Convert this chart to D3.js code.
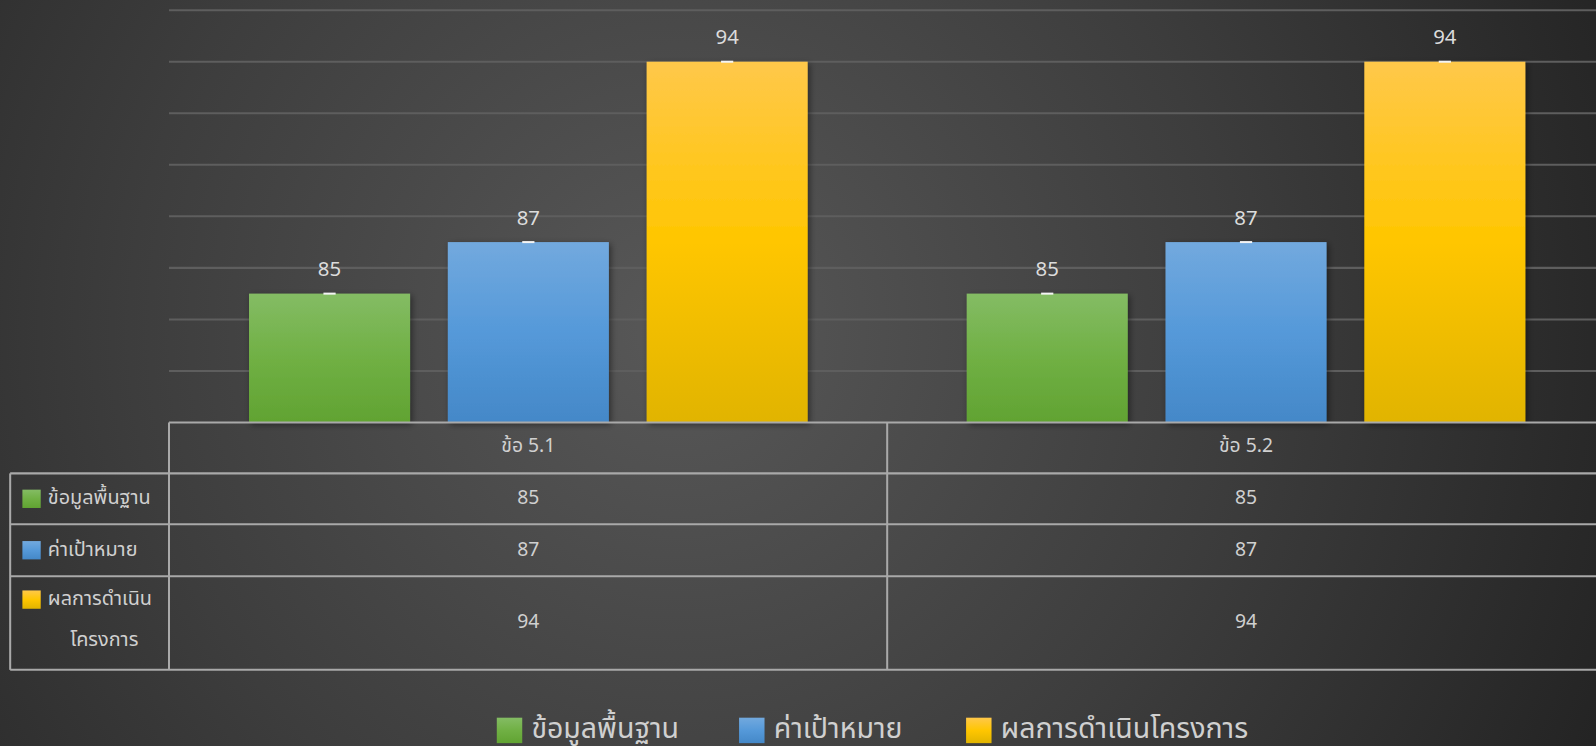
<!DOCTYPE html>
<html><head><meta charset="utf-8">
<script src="https://cdn.jsdelivr.net/npm/d3@7"></script>
<style>
html,body{margin:0;padding:0;background:#333;overflow:hidden}
svg{display:block}
text{font-family:"Noto Sans Thai","Noto Sans Thai UI","Noto Sans",sans-serif}
</style></head><body>
<svg id="c" width="1596" height="746"></svg>
<script>
const categories = ["ข้อ 5.1", "ข้อ 5.2"];
const seriesNames = ["ข้อมูลพื้นฐาน", "ค่าเป้าหมาย", "ผลการดำเนินโครงการ"];
const tableRowLabels = [["ข้อมูลพื้นฐาน"], ["ค่าเป้าหมาย"], ["ผลการดำเนิน", "โครงการ"]];
const baseline = [85, 85];
const target = [87, 87];
const result = [94, 94];
const yTicks = [80, 82, 84, 86, 88, 90, 92, 94, 96];

const seriesValues = [baseline, target, result];
const W = 1596, H = 746, k = 1.018;
const IW = W / k + 2;
const svg = d3.select("#c");
const defs = svg.append("defs");

// background radial gradient
const bg = defs.append("radialGradient").attr("id", "bg")
  .attr("cx", 680).attr("cy", 330).attr("r", 1000).attr("gradientUnits", "userSpaceOnUse");
bg.append("stop").attr("offset", "0").attr("stop-color", "#585858");
bg.append("stop").attr("offset", "0.55").attr("stop-color", "#3d3d3d");
bg.append("stop").attr("offset", "1").attr("stop-color", "#242424");
svg.append("rect").attr("width", W).attr("height", H).attr("fill", "url(#bg)");

const grads = [
  ["#84bc64", "#70b044", "#61a332"],
  ["#72a9de", "#5599d9", "#4488c8"],
  ["#ffc84a", "#ffc600", "#e1b400"]
];
grads.forEach((g, i) => {
  const lg = defs.append("linearGradient").attr("id", "g" + i)
    .attr("x1", 0).attr("y1", 0).attr("x2", 0).attr("y2", 1);
  lg.append("stop").attr("offset", "0").attr("stop-color", g[0]);
  lg.append("stop").attr("offset", "0.5").attr("stop-color", g[1]);
  lg.append("stop").attr("offset", "1").attr("stop-color", g[2]);
});
const f = defs.append("filter").attr("id", "sh").attr("x", "-20%").attr("y", "-10%").attr("width", "140%").attr("height", "130%");
f.append("feDropShadow").attr("dx", 2).attr("dy", 2).attr("stdDeviation", 3)
  .attr("flood-color", "#000").attr("flood-opacity", 0.45);

const root = svg.append("g").attr("transform", `scale(${k})`);

const x0 = d3.scaleBand().domain(categories).range([166.5, 1576.5]).paddingInner(0).paddingOuter(0);
const x1 = d3.scaleBand().domain(d3.range(3)).range([0, x0.bandwidth()]).paddingInner(0.19).paddingOuter(0.4);
const y = d3.scaleLinear().domain([80, 96]).range([415, 10]);

// gridlines
root.append("g").selectAll("line").data(yTicks.slice(1)).join("line")
  .attr("x1", 166).attr("x2", IW).attr("y1", d => y(d)).attr("y2", d => y(d))
  .attr("stroke", "#5e5e5e").attr("stroke-width", 2);

// bars
categories.forEach((c, ci) => {
  const g = root.append("g").attr("transform", `translate(${x0(c)},0)`);
  seriesValues.forEach((vals, si) => {
    const v = vals[ci];
    g.append("rect").attr("x", x1(si)).attr("width", x1.bandwidth())
      .attr("y", y(v)).attr("height", y(80) - y(v))
      .attr("fill", `url(#g${si})`).attr("filter", "url(#sh)");
    const cx = x1(si) + x1.bandwidth() / 2;
    g.append("line").attr("x1", cx - 6).attr("x2", cx + 6)
      .attr("y1", y(v)).attr("y2", y(v)).attr("stroke", "#f4f4f4").attr("stroke-width", 2);
    g.append("text").attr("x", cx).attr("y", y(v) - 17).attr("text-anchor", "middle")
      .attr("fill", "#dcdcdc").attr("font-size", 20).text(v);
  });
});

// table
const lineColor = "#a9a9a9";
const rowY = [415, 465, 515, 566, 658];
const T = root.append("g").attr("stroke", lineColor).attr("stroke-width", 2);
T.append("line").attr("x1", 166).attr("x2", IW).attr("y1", 415).attr("y2", 415);
rowY.slice(1).forEach(ry => T.append("line").attr("x1", 10).attr("x2", IW).attr("y1", ry).attr("y2", ry));
T.append("line").attr("x1", 10).attr("x2", 10).attr("y1", 465).attr("y2", 658);
T.append("line").attr("x1", 166).attr("x2", 166).attr("y1", 415).attr("y2", 658);
T.append("line").attr("x1", x0(categories[1])).attr("x2", x0(categories[1])).attr("y1", 415).attr("y2", 658);

categories.forEach(c => {
  const cx = x0(c) + x0.bandwidth() / 2;
  root.append("text").attr("x", cx).attr("y", 439).attr("text-anchor", "middle")
    .attr("dominant-baseline", "middle").attr("fill", "#d0d0d0").attr("font-size", 19).text(c);
});
seriesValues.forEach((vals, si) => {
  const cy = (rowY[si + 1] + rowY[si + 2]) / 2;
  vals.forEach((v, ci) => {
    const cx = x0(categories[ci]) + x0.bandwidth() / 2;
    root.append("text").attr("x", cx).attr("y", cy).attr("text-anchor", "middle")
      .attr("dominant-baseline", "middle").attr("fill", "#d0d0d0").attr("font-size", 19).text(v);
  });
  const lines = tableRowLabels[si];
  const sqY = lines.length > 1 ? 580 : cy - 9;
  root.append("rect").attr("x", 22).attr("y", sqY).attr("width", 18).attr("height", 18).attr("fill", `url(#g${si})`);
  lines.forEach((t, li) => {
    root.append("text").attr("x", li === 0 ? 47 : 69)
      .attr("y", lines.length > 1 ? 589 + li * 40 : cy)
      .attr("dominant-baseline", "middle").attr("fill", "#d0d0d0").attr("font-size", 19.5).text(t);
  });
});

// legend
const legX = [488, 726, 949];
seriesNames.forEach((n, i) => {
  root.append("rect").attr("x", legX[i]).attr("y", 705).attr("width", 25).attr("height", 25).attr("fill", `url(#g${i})`);
  root.append("text").attr("x", legX[i] + 34).attr("y", 717).attr("dominant-baseline", "middle")
    .attr("fill", "#d0d0d0").attr("font-size", 28).text(n);
});
</script>
</body></html>
